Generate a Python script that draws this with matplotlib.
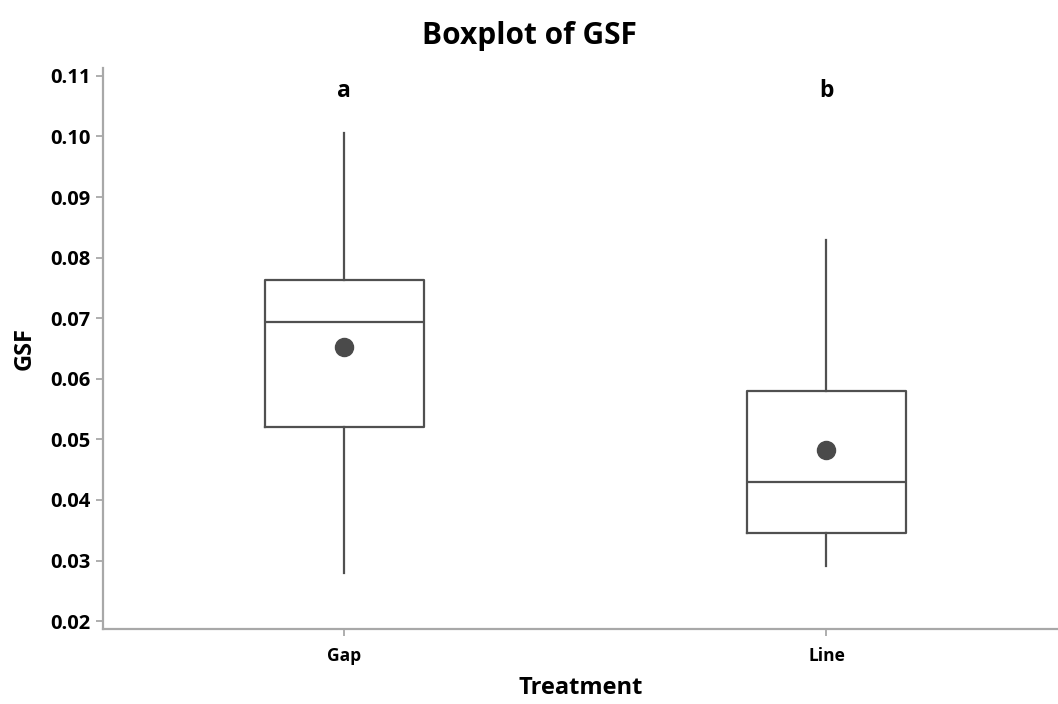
import matplotlib.pyplot as plt

plt.rcParams['font.family'] = ['Open Sans', 'DejaVu Sans']

# values
groups = ['Gap', 'Line']
q1 = [0.0520, 0.0345]
med = [0.0694, 0.0430]
q3 = [0.0763, 0.0580]
wlo = [0.0280, 0.0291]
whi = [0.1005, 0.0829]
means = [0.0652, 0.0483]
letters = ['a', 'b']

stats = []
for i in range(len(groups)):
	stats.append(dict(label=groups[i], q1=q1[i], med=med[i], q3=q3[i],
		whislo=wlo[i], whishi=whi[i], mean=means[i], fliers=[]))

fig = plt.figure(figsize=(10.58, 7.04), dpi=100)
ax = fig.add_axes([0.0974, 0.1065, 0.9026, 0.7969])

lc = '#505050'
ax.bxp(stats, positions=[0, 1], widths=0.33, showmeans=True, showcaps=False,
	boxprops=dict(color=lc, linewidth=1.6),
	medianprops=dict(color=lc, linewidth=1.6),
	whiskerprops=dict(color=lc, linewidth=1.6),
	meanprops=dict(marker='o', markerfacecolor='#4a4a4a', markeredgecolor='#4a4a4a', markersize=13))

for i in range(len(groups)):
	ax.text(i, 0.1075, letters[i], ha='center', va='center', fontsize=16.5, fontweight='bold')

ax.set_xlim(-0.5, 1.48)
ax.set_ylim(0.0187, 0.1113)
ax.set_yticks([0.02, 0.03, 0.04, 0.05, 0.06, 0.07, 0.08, 0.09, 0.10, 0.11])
ax.set_yticklabels(['%.2f' % v for v in ax.get_yticks()])

for s in ['top', 'right']:
	ax.spines[s].set_visible(False)
for s in ['left', 'bottom']:
	ax.spines[s].set_color('#a8a8a8')
	ax.spines[s].set_linewidth(1.6)
ax.tick_params(colors='#a8a8a8', labelcolor='black', length=5, width=1.3)
ax.tick_params(axis='y', labelsize=14.5, pad=4)
ax.tick_params(axis='x', labelsize=12.5, pad=8)
for t in ax.get_xticklabels() + ax.get_yticklabels():
	t.set_fontweight('bold')

ax.set_xlabel('Treatment', fontsize=17, fontweight='bold', labelpad=8)
ax.set_ylabel('GSF', fontsize=17, fontweight='bold', labelpad=10)
fig.suptitle('Boxplot of GSF', fontsize=21.5, fontweight='bold', y=0.97)

fig.savefig('out.png')
